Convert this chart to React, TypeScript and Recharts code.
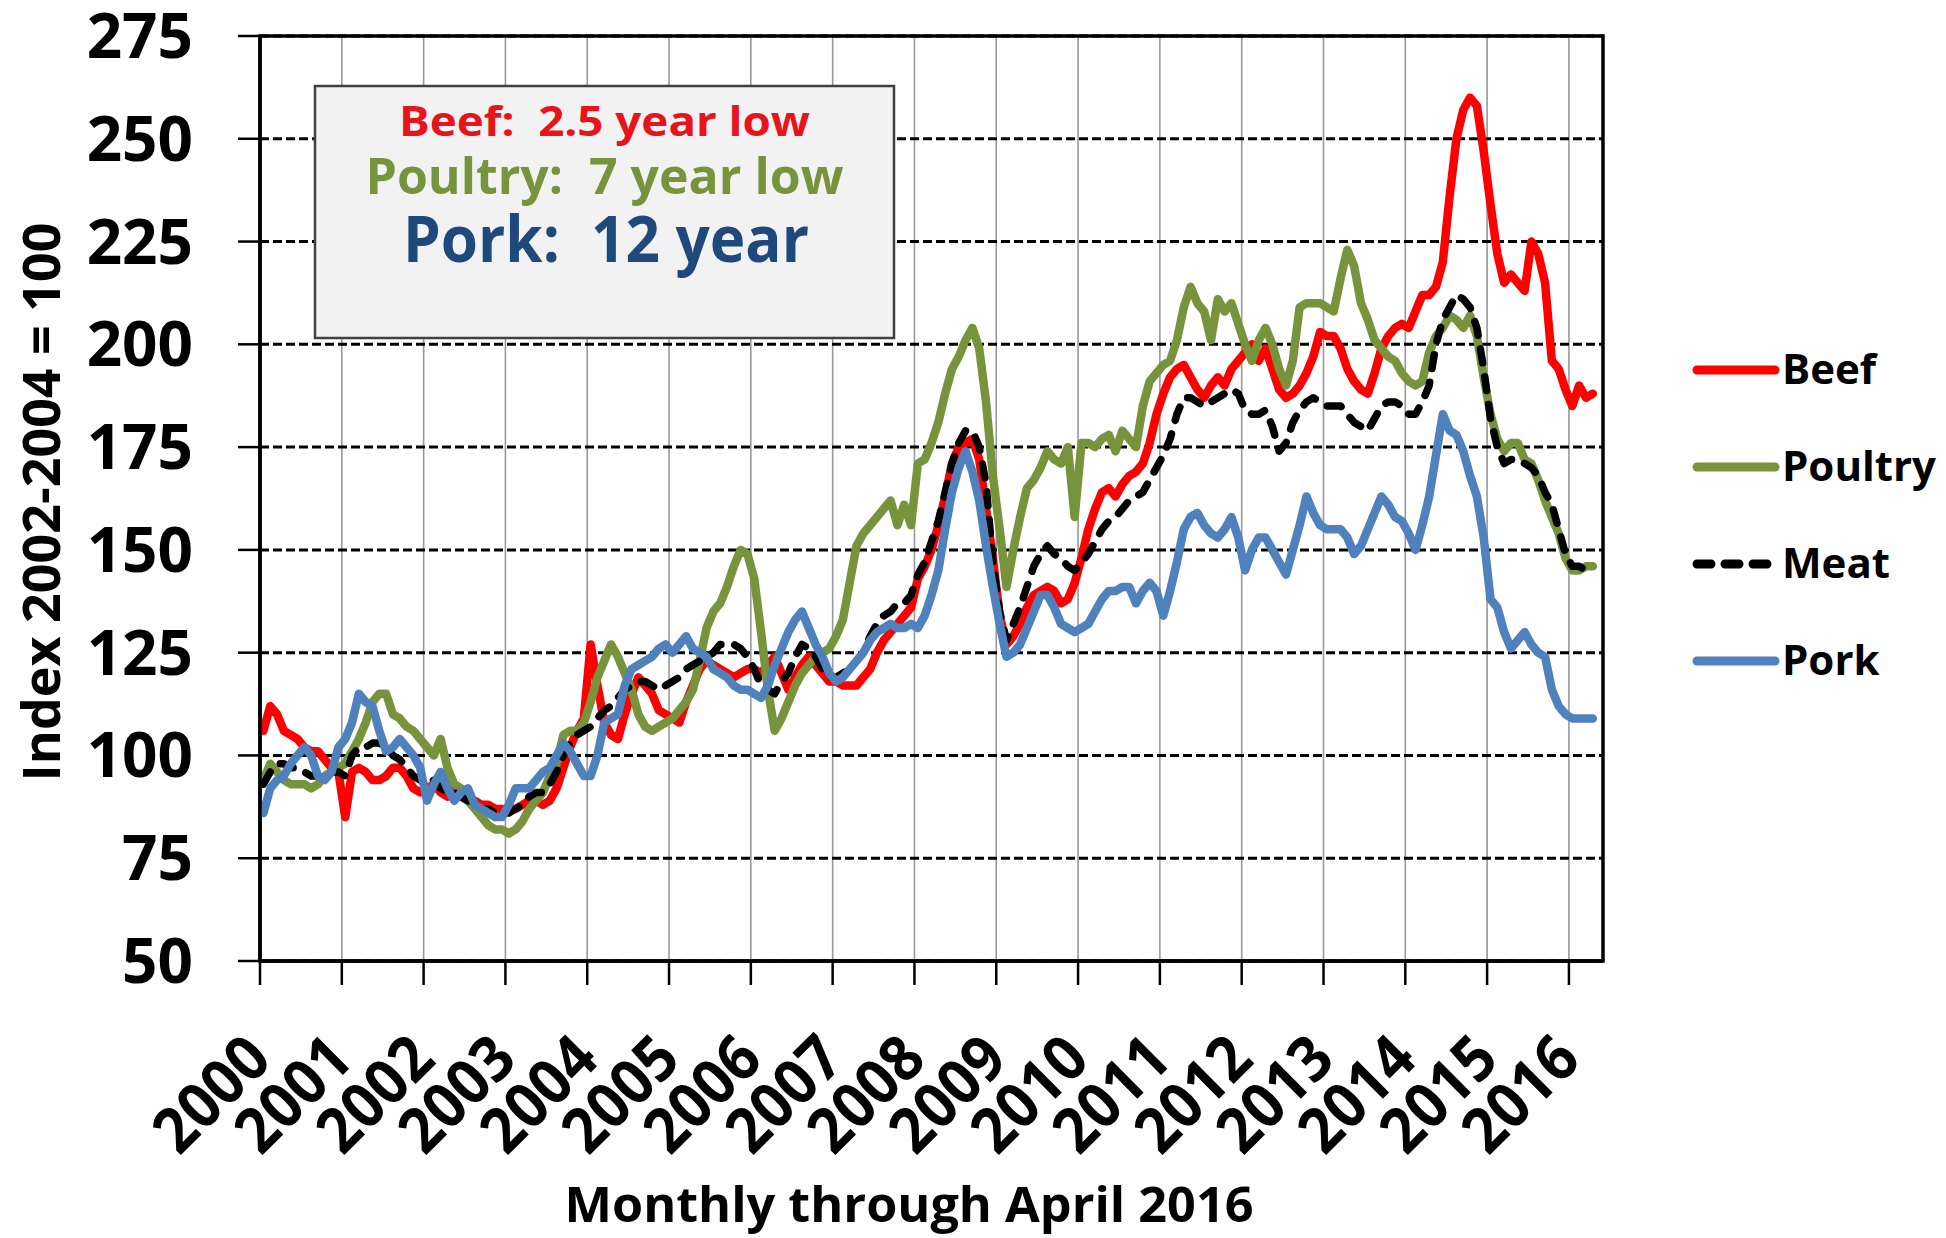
import { LineChart, Line, XAxis, YAxis, CartesianGrid, ReferenceArea, Legend } from "recharts";

// monthly meat price indices, Jan 2000 .. Apr 2016 (2002-2004 = 100)
const START_YEAR = 2000;
const MONTH_SLOTS = 197;

const beef = [
  106, 112, 110, 106, 105, 104, 102, 101, 101, 99, 97, 96,
  85, 96, 97, 96, 94, 94, 95, 97, 97, 95, 92, 91,
  92, 93, 91, 90, 92, 90, 89, 89, 88, 88, 87, 87,
  87, 87, 88, 89, 89, 88, 89, 92, 97, 102, 106, 109,
  127, 117, 108, 105, 104, 110, 115, 119, 117, 115, 111, 110,
  109, 108, 113, 117, 121, 123, 122, 121, 120, 119, 120, 121,
  121, 120, 122, 124, 120, 116, 119, 122, 124, 122, 120, 118,
  118, 117, 117, 117, 119, 121, 125, 128, 130, 132, 134, 136,
  143, 146, 150, 156, 163, 171, 175, 176, 177, 172, 160, 148,
  134, 127, 129, 132, 136, 139, 140, 141, 140, 137, 138, 142,
  148, 155, 160, 164, 165, 163, 166, 168, 169, 171, 176, 183,
  188, 192, 194, 195, 192, 189, 187, 190, 192, 190, 194, 196,
  198, 200, 196, 199, 194, 189, 187, 188, 190, 193, 197, 203,
  202, 202, 199, 194, 191, 189, 188, 193, 199, 202, 204, 205,
  204, 208, 212, 212, 214, 220, 236, 250, 257, 260, 258, 247,
  234, 222, 215, 217, 215, 213, 225, 222, 215, 196, 194, 189,
  185, 190, 187, 188,
];

const poultry = [
  94, 98, 96, 94, 93, 93, 93, 92, 93, 95, 96, 97,
  98, 101, 104, 108, 113, 115, 115, 110, 109, 107, 106, 104,
  102, 100, 104, 97, 93, 92, 89, 87, 85, 83, 82, 82,
  81, 82, 84, 87, 89, 91, 95, 98, 105, 106, 106, 108,
  113, 119, 123, 127, 124, 120, 116, 110, 107, 106, 107, 108,
  109, 111, 113, 116, 123, 131, 135, 137, 141, 146, 150, 149,
  143, 130, 116, 106, 109, 113, 117, 120, 122, 124, 125, 126,
  129, 133, 142, 151, 154, 156, 158, 160, 162, 156, 161, 156,
  171, 172, 176, 181, 188, 194, 197, 201, 204, 199, 186, 168,
  155, 141, 150, 158, 165, 167, 170, 174, 172, 171, 175, 158,
  176, 176, 175, 177, 178, 174, 179, 177, 175, 185, 191, 193,
  195, 196, 201, 209, 214, 210, 208, 201, 211, 208, 210, 205,
  200, 196, 201, 204, 200, 194, 190, 196, 209, 210, 210, 210,
  209, 208, 216, 223, 219, 210, 206, 201, 199, 197, 196, 193,
  191, 190, 191, 198, 202, 204, 207, 206, 204, 207, 202, 192,
  183, 177, 174, 176, 176, 172, 171, 167, 162, 158, 154, 148,
  145, 145, 146, 146,
];

const meat = [
  93, 96, 98, 98, 97, 97, 96, 95, 95, 95, 96, 96,
  95, 100, 102, 102, 103, 103, 102, 100, 99, 97, 95, 94,
  93, 94, 92, 91, 91, 90, 89, 88, 87, 87, 86, 86,
  86, 87, 88, 90, 91, 91, 93, 96, 100, 103, 105, 106,
  107, 109, 111, 112, 114, 116, 117, 118, 118, 117, 116, 117,
  118, 119, 121, 122, 123, 124, 125, 127, 127, 127, 126, 124,
  121, 117, 116, 115, 118, 120, 124, 127, 126, 124, 121, 119,
  119, 120, 121, 123, 125, 129, 132, 134, 135, 137, 137, 139,
  144, 147, 152, 157, 164, 171, 176, 179, 179, 175, 166, 147,
  135, 128, 132, 136, 141, 146, 149, 151, 149, 148, 146, 145,
  147, 149, 152, 155, 157, 158, 160, 162, 163, 164, 167, 170,
  173, 177, 183, 187, 187, 186, 185, 186, 187, 188, 189, 188,
  184, 183, 183, 184, 180, 174, 176, 181, 184, 186, 187, 186,
  185, 185, 185, 183, 181, 180, 179, 182, 185, 186, 186, 185,
  183, 183, 186, 190, 200, 206, 209, 212, 211, 209, 204, 194,
  182, 175, 171, 172, 172, 171, 170, 168, 164, 161, 155, 149,
  146, 146, 145, 146,
];

const pork = [
  86, 92, 94, 95, 98, 100, 102, 100, 95, 94, 96, 102,
  104, 108, 115, 113, 112, 106, 101, 102, 104, 102, 100, 97,
  89, 93, 96, 92, 89, 91, 92, 88, 87, 86, 85, 85,
  88, 92, 92, 92, 94, 96, 97, 100, 103, 101, 98, 95,
  95, 100, 108, 109, 110, 117, 121, 122, 123, 124, 126, 127,
  125, 127, 129, 126, 125, 124, 121, 120, 119, 117, 116, 116,
  115, 114, 117, 122, 126, 130, 133, 135, 131, 127, 124, 120,
  118, 119, 121, 123, 125, 128, 130, 131, 132, 131, 131, 132,
  131, 134, 139, 145, 155, 164, 170, 174, 169, 162, 151, 141,
  132, 124, 125, 127, 131, 135, 139, 139, 136, 132, 131, 130,
  131, 132, 135, 138, 140, 140, 141, 141, 137, 140, 142, 140,
  134, 140, 147, 155, 158, 159, 156, 154, 153, 155, 158, 153,
  145, 150, 153, 153, 150, 147, 144, 150, 156, 163, 159, 156,
  155, 155, 155, 153, 149, 151, 155, 159, 163, 161, 158, 157,
  154, 150, 156, 163, 173, 183, 179, 178, 174, 168, 163, 153,
  138, 136, 130, 126, 128, 130, 127, 125, 124, 116, 112, 110,
  109, 109, 109, 109,
];

const yearTicks = [0, 12, 24, 36, 48, 60, 72, 84, 96, 108, 120, 132, 144, 156, 168, 180, 192];
const valueTicks = [50, 75, 100, 125, 150, 175, 200, 225, 250, 275];

const SERIES = [
  { key: "beef", name: "Beef", color: "#ff0000", dash: undefined, width: 8.5 },
  { key: "poultry", name: "Poultry", color: "#77933c", dash: undefined, width: 8.5 },
  { key: "meat", name: "Meat", color: "#000000", dash: "14 14", width: 7.5 },
  { key: "pork", name: "Pork", color: "#4f81bd", dash: undefined, width: 8.5 },
];

const data = beef.map((_, i) => ({
  x: i + 0.5,
  beef: beef[i],
  poultry: poultry[i],
  meat: meat[i],
  pork: pork[i],
}));

const FONT = "'Open Sans', 'Noto Sans', sans-serif";

function YTick({ y, payload }: any) {
  return (
    <text x={193} y={y + 22} textAnchor="end" fontFamily={FONT} fontWeight={700} fontSize={62} fill="#000">
      {payload.value}
    </text>
  );
}

function XTick({ x, payload }: any) {
  const ax = x + 14;
  const ay = 1062;
  return (
    <text
      x={ax}
      y={ay}
      transform={`rotate(-45 ${ax} ${ay})`}
      textAnchor="end"
      fontFamily={FONT}
      fontWeight={700}
      fontSize={63}
      textLength={134}
      lengthAdjust="spacingAndGlyphs"
      fill="#000"
    >
      {START_YEAR + payload.value / 12}
    </text>
  );
}

function LegendBox() {
  return (
    <svg width={266} height={380}>
      {SERIES.map((s, i) => {
        const y = 50 + i * 97;
        return (
          <g key={s.key}>
            <line x1={20} x2={98} y1={y} y2={y} stroke={s.color} strokeWidth={9} strokeDasharray={s.dash} strokeLinecap="round" />
            <text x={105} y={y + 14} fontFamily={FONT} fontWeight={700} fontSize={42} fill="#000">
              {s.name}
            </text>
          </g>
        );
      })}
    </svg>
  );
}

export default function App() {
  return (
    <div style={{ position: "absolute", left: 0, top: 0, width: 1946, height: 1238, background: "#fff" }}>
      <LineChart width={1946} height={1238} data={data} margin={{ top: 36, right: 343, bottom: 0, left: 0 }}>
        <CartesianGrid horizontal={false} stroke="#999" strokeWidth={1.6} />
        <CartesianGrid vertical={false} stroke="#000" strokeWidth={3} strokeDasharray="9 4" />
        <XAxis
          type="number"
          dataKey="x"
          domain={[0, MONTH_SLOTS]}
          ticks={yearTicks}
          interval={0}
          height={277}
          tick={<XTick />}
          tickSize={24}
          tickLine={{ stroke: "#000", strokeWidth: 2.5 }}
          axisLine={{ stroke: "#000", strokeWidth: 3.5 }}
        />
        <YAxis
          type="number"
          domain={[50, 275]}
          ticks={valueTicks}
          interval={0}
          width={260}
          tick={<YTick />}
          tickSize={22}
          tickLine={{ stroke: "#000", strokeWidth: 2.5 }}
          axisLine={{ stroke: "#000", strokeWidth: 3.5 }}
        />
        <ReferenceArea x1={0} x2={MONTH_SLOTS} y1={50} y2={275} fill="none" stroke="#000" strokeWidth={3.5} />
        {SERIES.map((s) => (
          <Line
            key={s.key}
            type="linear"
            dataKey={s.key}
            name={s.name}
            stroke={s.color}
            strokeWidth={s.width}
            strokeDasharray={s.dash}
            strokeLinejoin="round"
            strokeLinecap="round"
            dot={false}
            activeDot={false}
            isAnimationActive={false}
          />
        ))}
        <Legend
          layout="vertical"
          align="center"
          verticalAlign="middle"
          content={<LegendBox />}
          wrapperStyle={{ left: 1677, top: 320, width: 266, height: 380 }}
        />
      </LineChart>
      <svg
        width={1946}
        height={1238}
        style={{ position: "absolute", left: 0, top: 0, pointerEvents: "none" }}
      >
        <rect x={315} y={86} width={579} height={252} fill="#f2f2f2" stroke="#404040" strokeWidth={2.5} />
        <text x={604.5} y={136} textAnchor="middle" fontFamily={FONT} fontWeight={700} fontSize={41} fill="#e8141b" textLength={411} lengthAdjust="spacingAndGlyphs" style={{ whiteSpace: "pre" }}>
          {"Beef:  2.5 year low"}
        </text>
        <text x={604.5} y={194} textAnchor="middle" fontFamily={FONT} fontWeight={700} fontSize={50} fill="#77933c" textLength={478} lengthAdjust="spacingAndGlyphs" style={{ whiteSpace: "pre" }}>
          {"Poultry:  7 year low"}
        </text>
        <text x={606} y={262} textAnchor="middle" fontFamily={FONT} fontWeight={700} fontSize={64} fill="#1f497d" textLength={406} lengthAdjust="spacingAndGlyphs" style={{ whiteSpace: "pre" }}>
          {"Pork:  12 year"}
        </text>
        <text
          x={60}
          y={502}
          transform="rotate(-90 60 502)"
          textAnchor="middle"
          fontFamily={FONT}
          fontWeight={700}
          fontSize={52}
          textLength={559}
          lengthAdjust="spacingAndGlyphs"
          fill="#000"
        >
          Index 2002-2004 = 100
        </text>
        <text
          x={909}
          y={1222}
          textAnchor="middle"
          fontFamily={FONT}
          fontWeight={700}
          fontSize={48}
          textLength={689}
          lengthAdjust="spacingAndGlyphs"
          fill="#000"
        >
          Monthly through April 2016
        </text>
      </svg>
    </div>
  );
}
